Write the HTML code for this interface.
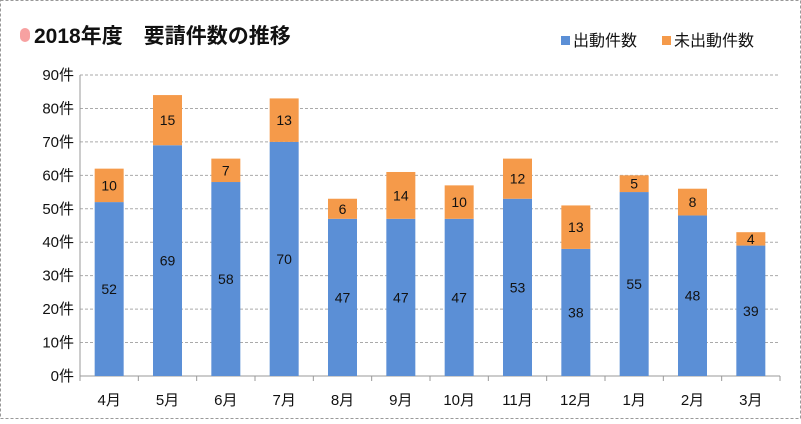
<!DOCTYPE html>
<html><head><meta charset="utf-8"><style>
body{margin:0;background:#fff}
svg text{font-family:"Liberation Sans","Noto Sans CJK JP",sans-serif}
</style></head><body>
<svg width="801" height="419" xmlns="http://www.w3.org/2000/svg">
<rect x="0.5" y="0.5" width="800" height="418" fill="#fff" stroke="#999" stroke-dasharray="3,2"/>
<rect x="20" y="28" width="10" height="14" rx="5" fill="#f7a1a1"/>
<text x="34" y="43" font-size="21" font-weight="bold" fill="#111">2018年度　要請件数の推移</text>
<rect x="561" y="36" width="9" height="9" fill="#5b8fd6"/>
<text x="573" y="46" font-size="16" fill="#111">出動件数</text>
<rect x="662" y="36" width="9" height="9" fill="#f59a4a"/>
<text x="674" y="46" font-size="16" fill="#111">未出動件数</text>
<g id="plot"></g>
</svg>
<script>
const categories=["4月","5月","6月","7月","8月","9月","10月","11月","12月","1月","2月","3月"];
const dispatched=[52,69,58,70,47,47,47,53,38,55,48,39];
const notDispatched=[10,15,7,13,6,14,10,12,13,5,8,4];
const yTicks=[0,10,20,30,40,50,60,70,80,90];
const NS="http://www.w3.org/2000/svg";
const g=document.getElementById('plot');
const x0=80,x1=780,y0=376,yTop=75,ymax=90;
const step=(x1-x0)/categories.length;
const y=v=>y0-(v/ymax)*(y0-yTop);
const xc=i=>x0+step*(i+0.5);
function mk(t,a){const e=document.createElementNS(NS,t);for(const k in a)e.setAttribute(k,a[k]);g.appendChild(e);return e;}
yTicks.forEach(t=>{
 if(t>0){const l=mk('line',{x1:x0,x2:x1,y1:y(t),y2:y(t),stroke:'#aaa','stroke-dasharray':'3,2'});
 
 }
 const tx=mk('text',{x:x0-6,y:y(t)+5,'font-size':15,'text-anchor':'end',fill:'#111'});
 tx.textContent=t+'件';
 
 
});
const ax=mk('line',{x1:x0,x2:x0,y1:yTop,y2:y0,stroke:'#999'});


const bx=mk('line',{x1:x0,x2:x1,y1:y0,y2:y0,stroke:'#999'});


for(let i=0;i<=categories.length;i++){
 const tk=mk('line',{x1:x0+step*i,x2:x0+step*i,y1:y0,y2:y0+5,stroke:'#999'});
 
 
}
const bw=29;
categories.forEach((c,i)=>{
 const d=dispatched[i],n=notDispatched[i];
 const b1=mk('rect',{x:xc(i)-bw/2,y:y(d),width:bw,height:y0-y(d),fill:'#5b8fd6'});
 
 
 const b2=mk('rect',{x:xc(i)-bw/2,y:y(d+n),width:bw,height:y(d)-y(d+n),fill:'#f59a4a'});
 
 
 const t1=mk('text',{x:xc(i),y:(y(d)+y0)/2+5,'font-size':14,'text-anchor':'middle',fill:'#111'});
 t1.textContent=d;
 
 
 const t2=mk('text',{x:xc(i),y:(y(d)+y(d+n))/2+5,'font-size':14,'text-anchor':'middle',fill:'#111'});
 t2.textContent=n;
 
 
 const cl=mk('text',{x:xc(i),y:405,'font-size':15,'text-anchor':'middle',fill:'#111'});
 cl.textContent=c;
 
 
});
</script>
</body></html>
